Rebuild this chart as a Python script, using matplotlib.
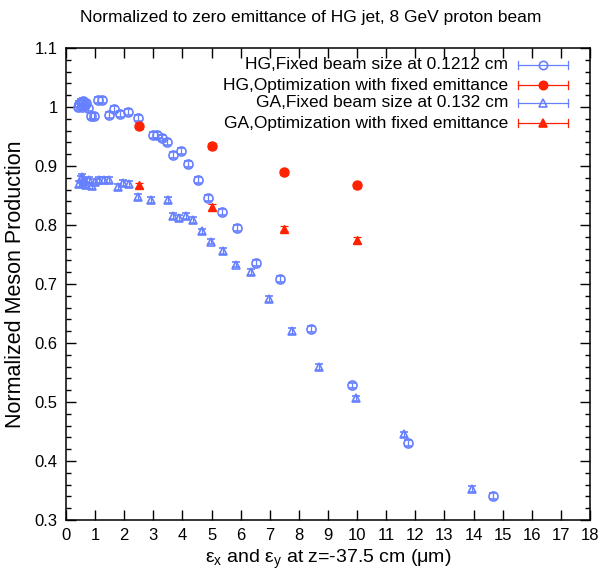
import matplotlib
matplotlib.use("Agg")
import matplotlib.pyplot as plt
from matplotlib.ticker import MultipleLocator

plt.rcParams['font.family'] = ['Liberation Sans', 'DejaVu Sans']
plt.rcParams['mathtext.fontset'] = 'custom'
plt.rcParams['mathtext.rm'] = 'Liberation Sans'
plt.rcParams['mathtext.it'] = 'Liberation Sans:italic'

# HG, fixed beam size at 0.1212 cm
hg_fix_x = [0.40, 0.45, 0.50, 0.55, 0.60, 0.65, 0.70, 0.75, 0.86, 0.97, 1.09, 1.24,
            1.47, 1.66, 1.86, 2.12, 2.46, 2.99, 3.14, 3.29, 3.46, 3.69, 3.94, 4.20,
            4.55, 4.89, 5.35, 5.86, 6.52, 7.35, 8.41, 9.82, 11.76, 14.68]
hg_fix_y = [1.000, 1.005, 1.008, 1.000, 1.010, 1.003, 1.006, 0.998, 0.985, 0.985, 1.012, 1.012,
            0.987, 0.997, 0.988, 0.991, 0.982, 0.953, 0.953, 0.947, 0.940, 0.919, 0.926, 0.903,
            0.877, 0.846, 0.822, 0.795, 0.736, 0.708, 0.623, 0.528, 0.430, 0.340]

# HG, optimization with fixed emittance
hg_opt_x = [2.5, 5.0, 7.5, 10.0]
hg_opt_y = [0.967, 0.934, 0.889, 0.867]

# GA, fixed beam size at 0.132 cm
ga_fix_x = [0.45, 0.50, 0.55, 0.60, 0.65, 0.70, 0.80, 0.90, 1.00, 1.15, 1.30, 1.47,
            1.78, 1.97, 2.15, 2.46, 2.92, 3.49, 3.67, 3.89, 4.12, 4.35, 4.66, 4.98,
            5.38, 5.84, 6.34, 6.99, 7.76, 8.70, 9.97, 11.60, 13.94]
ga_fix_y = [0.870, 0.878, 0.882, 0.872, 0.875, 0.868, 0.876, 0.866, 0.873, 0.877, 0.876, 0.877,
            0.865, 0.871, 0.869, 0.847, 0.843, 0.843, 0.816, 0.812, 0.816, 0.808, 0.789, 0.772,
            0.756, 0.733, 0.720, 0.675, 0.620, 0.560, 0.506, 0.445, 0.352]

# GA, optimization with fixed emittance
ga_opt_x = [2.5, 5.0, 7.5, 10.0]
ga_opt_y = [0.867, 0.830, 0.794, 0.775]

labels = ["HG,Fixed beam size at 0.1212 cm",
          "HG,Optimization with fixed emittance",
          "GA,Fixed beam size at 0.132 cm",
          "GA,Optimization with fixed emittance"]

blue = '#6680ff'
red = '#ff2200'
err = 0.005

fig = plt.figure(figsize=(6.03, 5.80), dpi=100)
ax = fig.add_axes([66/603, 1-520/580, 524/603, 472/580])

ax.errorbar(hg_fix_x, hg_fix_y, yerr=err, fmt='o', ms=6.5, mfc='none', mec=blue,
            mew=1.2, ecolor=blue, elinewidth=0.9, capsize=3, capthick=0.9)
ax.errorbar(hg_opt_x, hg_opt_y, yerr=err, fmt='o', ms=6.5, mfc=red, mec=red,
            ecolor=red, elinewidth=0.9, capsize=3, capthick=0.9)
ax.errorbar(ga_fix_x, ga_fix_y, yerr=err, fmt='^', ms=6, mfc='none', mec=blue,
            mew=1.2, ecolor=blue, elinewidth=0.9, capsize=3, capthick=0.9)
ax.errorbar(ga_opt_x, ga_opt_y, yerr=err, fmt='^', ms=6, mfc=red, mec=red,
            ecolor=red, elinewidth=0.9, capsize=3, capthick=0.9)

ax.set_xlim(0, 18)
ax.set_ylim(0.3, 1.1)
ax.xaxis.set_major_locator(MultipleLocator(1))
ax.yaxis.set_major_locator(MultipleLocator(0.1))
ax.yaxis.set_minor_locator(MultipleLocator(0.02))
ax.set_yticks([0.3, 0.4, 0.5, 0.6, 0.7, 0.8, 0.9, 1.0, 1.1])
ax.set_yticklabels(['0.3', '0.4', '0.5', '0.6', '0.7', '0.8', '0.9', '1', '1.1'])
ax.tick_params(which='both', direction='in', top=True, right=True, labelsize=12, width=1.0)
ax.tick_params(which='major', length=7, pad=6)
ax.tick_params(which='minor', length=3.5)
for s in ax.spines.values():
    s.set_linewidth(1.1)

ax.set_xlabel(r'ε$_\mathrm{x}$ and ε$_\mathrm{y}$ at z=-37.5 cm (μm)', fontsize=14, labelpad=3)
ax.set_ylabel('Normalized Meson Production', fontsize=15.5, labelpad=6)
fig.text(0.516, 0.969, 'Normalized to zero emittance of HG jet, 8 GeV proton beam',
         ha='center', va='center', fontsize=12.5)

# gnuplot-style key
rows_y = [0.964, 0.9216, 0.8835, 0.841]
styles = [(blue, 'o', 'none'), (red, 'o', red), (blue, '^', 'none'), (red, '^', red)]
for lab, yy, (c, m, fc) in zip(labels, rows_y, styles):
    ax.text(0.8435, yy, lab, transform=ax.transAxes, ha='right', va='center', fontsize=12.5)
    ax.plot([0.8626, 0.958], [yy, yy], transform=ax.transAxes, color=c, lw=0.9, clip_on=False)
    ax.plot([0.8626, 0.8626], [yy-0.009, yy+0.009], transform=ax.transAxes, color=c, lw=0.9)
    ax.plot([0.958, 0.958], [yy-0.009, yy+0.009], transform=ax.transAxes, color=c, lw=0.9)
    ax.plot([0.910], [yy], transform=ax.transAxes, marker=m, ms=6, mfc=fc, mec=c, mew=1.2,
            linestyle='none')

fig.savefig('out.png', dpi=100)
